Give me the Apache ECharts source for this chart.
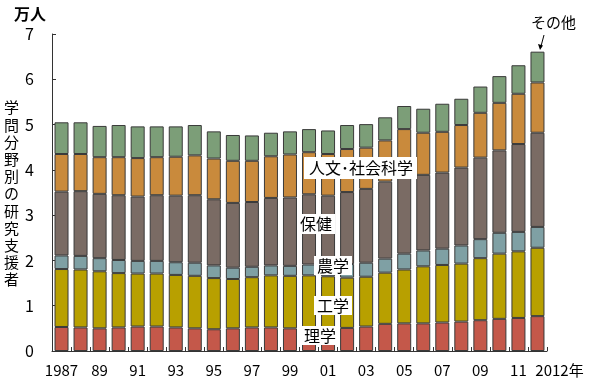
<!DOCTYPE html>
<html>
<head>
<meta charset="utf-8">
<script src="https://cdn.jsdelivr.net/npm/echarts@6/dist/echarts.min.js"></script>
<style>html,body{margin:0;padding:0;background:#fff}#c{width:600px;height:391px}</style>
</head>
<body>
<div id="c"></div>
<script>
var years = ['1987','1988','1989','1990','1991','1992','1993','1994','1995','1996','1997','1998','1999','2000','2001','2002','2003','2004','2005','2006','2007','2008','2009','2010','2011','2012'];
var tickLabels = ['1987','89','91','93','95','97','99','01','03','05','07','09','11','2012年'];
var rigaku   = [0.53,0.52,0.50,0.52,0.54,0.54,0.52,0.50,0.48,0.50,0.52,0.52,0.50,0.50,0.50,0.51,0.54,0.60,0.61,0.61,0.63,0.65,0.68,0.71,0.73,0.77];
var kogaku   = [1.28,1.28,1.26,1.20,1.17,1.17,1.16,1.16,1.13,1.09,1.11,1.15,1.16,1.17,1.15,1.11,1.10,1.13,1.19,1.26,1.27,1.28,1.37,1.44,1.47,1.51];
var nogaku   = [0.30,0.30,0.29,0.29,0.28,0.28,0.28,0.29,0.28,0.25,0.23,0.22,0.22,0.24,0.25,0.30,0.31,0.31,0.35,0.35,0.36,0.40,0.42,0.46,0.43,0.46];
var hoken    = [1.41,1.43,1.42,1.43,1.42,1.45,1.47,1.49,1.46,1.43,1.43,1.49,1.51,1.55,1.53,1.59,1.63,1.70,1.71,1.67,1.68,1.72,1.80,1.82,1.94,2.08];
var jinbun   = [0.83,0.82,0.81,0.84,0.85,0.84,0.86,0.88,0.90,0.93,0.91,0.92,0.95,0.93,0.92,0.95,0.91,0.91,1.04,0.93,0.90,0.94,0.99,1.05,1.11,1.11];
var sonota   = [0.70,0.70,0.69,0.71,0.70,0.68,0.67,0.67,0.60,0.57,0.56,0.52,0.51,0.51,0.52,0.53,0.52,0.51,0.51,0.53,0.62,0.58,0.58,0.59,0.63,0.68];
var seriesNames = ['理学','工学','農学','保健','人文･社会科学','その他'];
var yTicks = [0,1,2,3,4,5,6,7];

var colors = ['#c4584a','#b8a000','#7fa0a4','#7a6b64','#c98a3c','#7c9e78'];
var dataSets = [rigaku,kogaku,nogaku,hoken,jinbun,sonota];
var font = '"Noto Sans CJK JP", sans-serif';

var series = dataSets.map(function(d,i){
  return {
    name: seriesNames[i], type:'bar', stack:'all', data:d, barWidth:14,
    itemStyle:{color:colors[i], borderColor:'#3a3a3a', borderWidth:1},
    silent:true, animation:false
  };
});

var shownIdx = {};
years.forEach(function(y,i){ if(i%2===0) shownIdx[i]=tickLabels[i/2]; });
shownIdx[25] = tickLabels[13];

function lbl(text, left, top, pad){
  return {type:'text', left:left, top:top, z:100, zlevel:1,
    style:{text:text, fontSize:16, fontFamily:font, fill:'#000', backgroundColor:'#fff', padding:pad}};
}

var chart = echarts.init(document.getElementById('c'), null, {renderer:'canvas'});
chart.setOption({
  animation:false,
  backgroundColor:'#fff',
  grid:{left:52, right:53, top:34, bottom:40},
  xAxis:{
    type:'category', data:years,
    axisLine:{lineStyle:{color:'#333', width:1}},
    axisTick:{show:true, inside:true, length:4, alignWithLabel:false, lineStyle:{color:'#333'}},
    axisLabel:{
      interval:0, color:'#000', fontSize:15, fontFamily:font, margin:12,
      formatter:function(v,i){
        if(i===25) return '{l|'+shownIdx[i]+'}';
        return shownIdx[i]!==undefined ? shownIdx[i] : '';
      },
      rich:{l:{fontSize:15, fontFamily:font, color:'#000', padding:[0,0,0,44]}}
    }
  },
  yAxis:{
    type:'value', min:0, max:7, interval:1,
    axisLine:{show:true, lineStyle:{color:'#333', width:1}},
    axisTick:{show:true, inside:true, length:4, lineStyle:{color:'#333'}},
    splitLine:{show:false},
    axisLabel:{color:'#000', fontSize:16, fontFamily:font, margin:18,
      formatter:function(v){ return yTicks.indexOf(v)>=0 ? String(v) : ''; }}
  },
  series: series,
  graphic:[
    {type:'text', left:14, top:6, z:100, style:{text:'万人', fontSize:16, fontWeight:'bold', fontFamily:font, fill:'#000'}},
    {type:'text', left:4, top:99, z:100, style:{text:'学\n問\n分\n野\n別\nの\n研\n究\n支\n援\n者', fontSize:15, lineHeight:17.2, fontFamily:font, fill:'#000'}},
    lbl('人文･社会科学', 304, 157, [3,4,3,5]),
    lbl('保健', 297, 214, [2,3,2,3]),
    lbl('農学', 314, 256, [2,3,1,3]),
    lbl('工学', 314, 296, [2,3,1,3]),
    lbl('理学', 301, 326, [2,3,1,3]),
    {type:'text', left:531, top:15, z:100, style:{text:'その他', fontSize:15, fontFamily:font, fill:'#000'}},
    {type:'line', z:100, shape:{x1:544, y1:35, x2:540.5, y2:48}, style:{stroke:'#000', lineWidth:1}},
    {type:'polygon', z:100, shape:{points:[[538,44],[543,45.5],[540,50]]}, style:{fill:'#000'}}
  ]
});
</script>
</body>
</html>
